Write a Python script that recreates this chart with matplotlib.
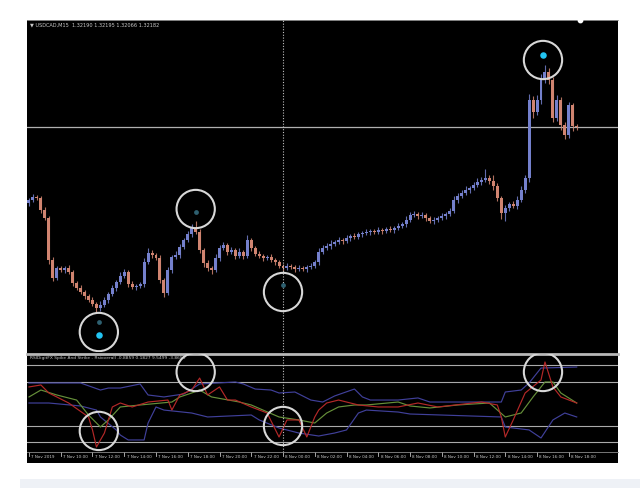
import numpy as np
import matplotlib
matplotlib.use("Agg")
import matplotlib.pyplot as plt
from matplotlib.patches import Rectangle

# USDCAD M15 candles (close prices), opens follow the previous close
first_open = 1.31990
closes = [
    1.32000, 1.32009, 1.32006, 1.31970, 1.31946, 1.31820, 1.31766, 1.31796, 1.31790, 1.31796,
    1.31784, 1.31751, 1.31736, 1.31724, 1.31712, 1.31700, 1.31688, 1.31676, 1.31685, 1.31700,
    1.31718, 1.31736, 1.31754, 1.31772, 1.31784, 1.31748, 1.31739, 1.31742, 1.31748, 1.31814,
    1.31841, 1.31835, 1.31826, 1.31760, 1.31721, 1.31790, 1.31829, 1.31835, 1.31859, 1.31880,
    1.31898, 1.31916, 1.31904, 1.31850, 1.31811, 1.31796, 1.31790, 1.31826, 1.31856, 1.31865,
    1.31844, 1.31850, 1.31832, 1.31844, 1.31832, 1.31880, 1.31856, 1.31838, 1.31832, 1.31826,
    1.31829, 1.31820, 1.31814, 1.31802, 1.31796, 1.31802, 1.31799, 1.31793, 1.31796, 1.31793,
    1.31799, 1.31802, 1.31814, 1.31844, 1.31856, 1.31862, 1.31868, 1.31874, 1.31880, 1.31877,
    1.31886, 1.31892, 1.31889, 1.31898, 1.31901, 1.31904, 1.31907, 1.31904, 1.31910, 1.31907,
    1.31913, 1.31910, 1.31916, 1.31922, 1.31928, 1.31940, 1.31955, 1.31958, 1.31952, 1.31955,
    1.31946, 1.31937, 1.31940, 1.31946, 1.31952, 1.31958, 1.31967, 1.32000, 1.32012, 1.32021,
    1.32030, 1.32036, 1.32045, 1.32054, 1.32060, 1.32066, 1.32057, 1.32042, 1.32006, 1.31961,
    1.31976, 1.31988, 1.31982, 1.32000, 1.32030, 1.32066, 1.32300, 1.32264, 1.32300, 1.32360,
    1.32384, 1.32360, 1.32246, 1.32300, 1.32225, 1.32195, 1.32285, 1.32222, 1.32219,
]
# wick lengths in points (0.00001)
up_wick = [
    6, 9, 6, 6, 9, 6, 9, 6, 6, 6,
    9, 6, 6, 9, 6, 6, 9, 6, 12, 9,
    6, 9, 6, 12, 9, 6, 9, 6, 6, 12,
    15, 9, 6, 9, 6, 9, 6, 12, 9, 6,
    9, 12, 21, 9, 6, 9, 6, 12, 9, 9,
    6, 9, 6, 12, 6, 15, 6, 6, 9, 6,
    6, 9, 6, 6, 6, 9, 6, 6, 9, 6,
    6, 9, 6, 12, 9, 9, 12, 6, 9, 6,
    9, 6, 9, 6, 6, 9, 6, 6, 9, 6,
    6, 9, 6, 9, 6, 12, 9, 9, 6, 9,
    6, 6, 9, 6, 9, 6, 9, 12, 9, 9,
    12, 6, 9, 12, 9, 27, 9, 18, 9, 6,
    9, 6, 9, 12, 12, 9, 18, 12, 15, 18,
    21, 12, 9, 15, 9, 9, 9, 6, 6,
]
dn_wick = [
    9, 6, 6, 9, 6, 12, 9, 6, 6, 9,
    6, 9, 6, 6, 9, 6, 6, 12, 9, 6,
    9, 6, 9, 6, 6, 9, 6, 9, 6, 9,
    6, 9, 6, 9, 12, 6, 9, 6, 9, 6,
    6, 9, 6, 9, 12, 9, 12, 6, 9, 6,
    9, 6, 9, 6, 9, 6, 9, 6, 6, 9,
    6, 6, 9, 6, 9, 6, 6, 9, 6, 6,
    9, 6, 6, 9, 6, 6, 9, 6, 6, 9,
    6, 9, 6, 6, 9, 6, 9, 6, 6, 9,
    6, 6, 9, 6, 6, 9, 6, 6, 9, 6,
    9, 6, 9, 6, 6, 9, 6, 6, 9, 6,
    6, 9, 6, 6, 9, 6, 9, 12, 9, 18,
    24, 9, 6, 9, 6, 9, 12, 18, 9, 12,
    9, 12, 12, 9, 15, 12, 9, 15, 9,
]

# indicator lines: (bar, value)
upper_bars = [0, 13, 18, 20, 23, 28, 30, 34, 39, 43, 52, 54, 57, 61, 63, 67, 71, 74, 77, 82,
              84, 86, 93, 98, 101, 119, 120, 124, 126, 129, 138]
upper_vals = [69.1, 69.1, 62.7, 64.5, 64.5, 68.2, 58.2, 56.4, 59.1, 68.2, 70.0, 68.2, 63.6, 62.7,
              60.0, 60.9, 53.6, 51.8, 57.3, 63.6, 56.4, 53.6, 53.6, 55.5, 51.8, 51.8, 60.9, 62.7,
              69.1, 82.7, 83.6]
lower_bars = [0, 5, 13, 17, 18, 22, 23, 25, 29, 30, 32, 34, 41, 45, 56, 58, 63, 68, 73, 77,
              80, 83, 85, 93, 96, 119, 120, 126, 129, 132, 135, 138]
lower_vals = [50.9, 50.9, 48.2, 44.5, 38.2, 26.4, 21.8, 17.3, 17.3, 32.7, 47.3, 44.5, 41.8, 38.2,
              40.0, 35.5, 28.2, 23.6, 20.9, 23.6, 26.4, 41.8, 44.5, 42.7, 40.9, 38.2, 29.1, 26.4,
              19.1, 35.5, 41.8, 38.2]
red_bars = [0, 3, 5, 7, 10, 15, 16, 17, 19, 21, 23, 26, 30, 35, 36, 38, 41, 43, 45, 48, 50, 52,
            56, 60, 63, 65, 68, 70, 72, 73, 75, 78, 83, 88, 93, 98, 103, 114, 118, 119, 120, 122,
            125, 129, 130, 132, 134, 138]
red_vals = [65.5, 67.3, 60.0, 56.4, 50.9, 38.2, 26.4, 10.9, 23.6, 47.3, 50.9, 47.3, 51.8, 53.6,
            44.5, 58.2, 62.7, 73.6, 58.2, 65.5, 53.6, 53.6, 47.3, 41.8, 20.0, 35.5, 35.5, 20.0,
            38.2, 44.5, 50.9, 53.6, 49.1, 47.3, 47.3, 50.9, 47.3, 51.8, 49.1, 38.2, 20.0, 35.5,
            60.0, 71.8, 88.2, 65.5, 56.4, 50.9]
green_bars = [0, 3, 7, 12, 15, 18, 20, 23, 28, 36, 38, 41, 43, 46, 53, 56, 63, 68, 72, 75, 78,
              82, 85, 93, 96, 101, 108, 116, 120, 124, 127, 130, 132, 134, 138]
green_vals = [56.4, 62.7, 58.2, 53.6, 40.0, 29.1, 35.5, 47.3, 49.1, 51.8, 56.4, 60.0, 62.7, 56.4,
              51.8, 49.1, 38.2, 35.5, 32.7, 41.8, 47.3, 49.1, 49.1, 51.8, 48.2, 46.4, 49.1, 50.9,
              38.2, 41.8, 56.4, 70.0, 70.0, 60.0, 50.9]
levels = [85, 70, 30, 15]

# highlighted spikes (bar, price) and indicator points (bar, value)
circle_bars = [17.6, 42, 64, 129.5]
circle_prices = [1.31604, 1.31973, 1.31724, 1.32420]
circle_ind = [25.5, 79.1, 30.0, 79.1]
arrow_bars = [17.6, 17.6, 42, 64, 129.5]
arrow_prices = [1.31634, 1.31595, 1.31964, 1.31745, 1.32435]
arrow_bright = [False, True, False, False, True]
cross_bar = 64

time_labels = ["7 Nov 2019", "7 Nov 10:00", "7 Nov 12:00", "7 Nov 14:00", "7 Nov 16:00",
               "7 Nov 18:00", "7 Nov 20:00", "7 Nov 22:00", "8 Nov 00:00", "8 Nov 02:00",
               "8 Nov 04:00", "8 Nov 06:00", "8 Nov 08:00", "8 Nov 10:00", "8 Nov 12:00",
               "8 Nov 14:00", "8 Nov 16:00", "8 Nov 18:00"]
label_bars = [0, 8, 16, 24, 32, 40, 48, 56, 64, 72, 80, 88, 96, 104, 112, 120, 128, 136]

closes = np.array(closes)
opens = np.concatenate([[first_open], closes[:-1]])
highs = np.maximum(opens, closes) + np.array(up_wick) * 1e-5
lows = np.minimum(opens, closes) - np.array(dn_wick) * 1e-5
x = np.arange(len(closes))

fig = plt.figure(figsize=(6.4, 4.88), dpi=100)
fig.patch.set_facecolor("white")
fig.patches.append(Rectangle((27 / 640, 25 / 488), 591 / 640, 443 / 488,
                             transform=fig.transFigure, facecolor="black", zorder=-5))
fig.patches.append(Rectangle((20 / 640, 0), 620 / 640, 9 / 488,
                             transform=fig.transFigure, facecolor="#eef1f6", zorder=-5))

ax = fig.add_axes([27 / 640, 136 / 488, 591 / 640, 332 / 488])
ax2 = fig.add_axes([27 / 640, 36 / 488, 591 / 640, 98 / 488])
for a in (ax, ax2):
    a.set_facecolor("black")
    a.set_xlim(-0.5, 148.4)
    a.set_xticks([])
    a.set_yticks([])
    for s in a.spines.values():
        s.set_visible(False)

# candles
bull_col = "#7480cc"
bear_col = "#d08470"
cols = [bull_col if c >= o else bear_col for o, c in zip(opens, closes)]
ax.vlines(x, lows, highs, colors=cols, linewidth=0.8, alpha=0.85, zorder=2)
heights = np.where(np.abs(closes - opens) < 2e-5, 2e-5, closes - opens)
ax.bar(x, heights, bottom=opens, width=0.75, color=cols, linewidth=0, zorder=3)

ax.set_ylim(1.31544, 1.32540)
ax.axhline(closes[-1], color="#b0b0b0", linewidth=0.9, zorder=1)
ax.spines["top"].set_visible(True)
ax.spines["top"].set_color("#9a9a9a")
ax.spines["top"].set_linewidth(0.6)

ax.scatter(circle_bars, circle_prices, s=760, facecolors="none", edgecolors="#d8d8d8",
           linewidths=1.5, zorder=5)
for b, p, br in zip(arrow_bars, arrow_prices, arrow_bright):
    ax.scatter([b], [p], s=22 if br else 12, color="#22c4f2" if br else "#2e6070",
               zorder=6, linewidths=0)

ax.text(0.005, 0.992, "\u25bc USDCAD,M15  1.32190 1.32195 1.32066 1.32182",
        transform=ax.transAxes, color="#c8c8c8", fontsize=3.6, va="top", ha="left")
ax.scatter([0.936], [1.0], transform=ax.transAxes, marker="o", s=10, color="white",
           clip_on=False, zorder=7)

# indicator
ax2.set_ylim(6.36, 95.45)
for lv in levels:
    ax2.axhline(lv, color="#aaaaaa", linewidth=0.8, zorder=1)
ax2.plot(upper_bars, upper_vals, color="#40409a", linewidth=0.85, zorder=2)
ax2.plot(lower_bars, lower_vals, color="#40409a", linewidth=0.85, zorder=2)
ax2.plot(green_bars, green_vals, color="#66903a", linewidth=0.85, zorder=3)
ax2.plot(red_bars, red_vals, color="#b42828", linewidth=0.85, zorder=4)
ax2.scatter(circle_bars, circle_ind, s=760, facecolors="none", edgecolors="#d8d8d8",
            linewidths=1.5, zorder=5)
ax2.spines["top"].set_visible(True)
ax2.spines["top"].set_color("#b8b8b8")
ax2.spines["top"].set_linewidth(2)
ax2.spines["bottom"].set_visible(True)
ax2.spines["bottom"].set_color("#8a8a8a")
ax2.spines["bottom"].set_linewidth(0.6)
ax2.text(0.005, 0.975, "RSIDigitFX Spike And Strike - Rsioverall -0.8859 0.1827 9.5499 -3.8659",
         transform=ax2.transAxes, color="#c8c8c8", fontsize=3.2, va="top", ha="left")

# crosshair across both panes
ax.axvline(cross_bar, color="#c0c0c0", linewidth=0.8, linestyle=(0, (1, 1.5)), zorder=4)
ax2.axvline(cross_bar, color="#c0c0c0", linewidth=0.8, linestyle=(0, (1, 1.5)), zorder=4)

# time axis
tr = ax2.get_xaxis_transform()
for b, lab in zip(label_bars, time_labels):
    ax2.plot([b, b], [0, -0.04], transform=tr, color="#c0c0c0", linewidth=0.6, clip_on=False)
    ax2.text(b + 0.6, -0.055, lab, transform=tr, color="#c8c8c8", fontsize=3.0,
             ha="left", va="center")

fig.savefig("out.png", dpi=100, facecolor="white")
